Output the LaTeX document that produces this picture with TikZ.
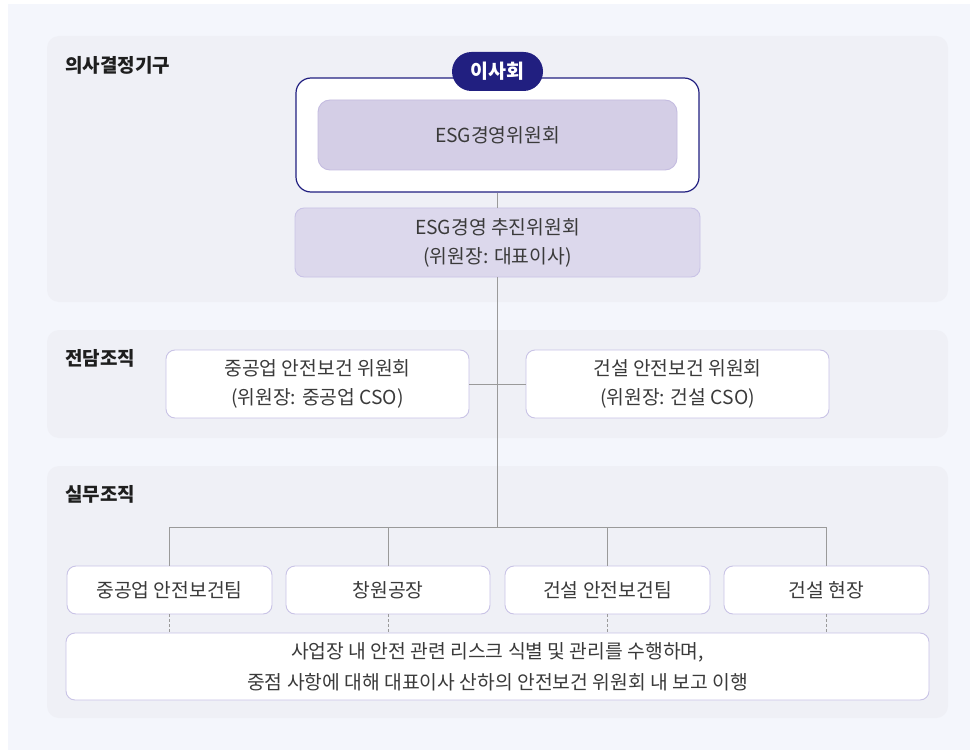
\documentclass[tikz,border=0pt]{standalone}
\usepackage{fontspec}
\setmainfont{Noto Sans CJK KR}
\definecolor{outerbg}{HTML}{F4F6FC}
\definecolor{panelbg}{HTML}{EFF0F6}
\definecolor{navy}{HTML}{211F80}
\definecolor{esgfill}{HTML}{D4CEE6}
\definecolor{esgline}{HTML}{C4BCE0}
\definecolor{chfill}{HTML}{DCD8EC}
\definecolor{boxline}{HTML}{C9C3E6}
\definecolor{conn}{HTML}{9A9A9A}
\definecolor{txt}{HTML}{3A3A3A}
\definecolor{lbl}{HTML}{1E1E1E}
\tikzset{
  panel/.style={fill=panelbg, draw=none, rounded corners=12pt},
  seclabel/.style={anchor=west, font=\bfseries\fontsize{19}{22}\selectfont, text=lbl, inner sep=0pt},
  wbox/.style={draw=boxline, line width=0.9pt, fill=white, rounded corners=9pt, font=\fontsize{19.3}{29}\selectfont, text=txt, align=center, inner sep=0pt},
  conline/.style={draw=conn, line width=1pt},
  dotline/.style={draw=conn, line width=1pt, dash pattern=on 2.5pt off 2.5pt},
}
\begin{document}
\begin{tikzpicture}[x=1pt,y=-1pt]
\useasboundingbox (0,0) rectangle (977,754);
\fill[white] (0,0) rectangle (977,754);
\fill[outerbg] (8,4) rectangle (970,750);
% panels
\fill[panel] (47,36) rectangle (948,302);
\fill[panel] (47,330) rectangle (948,438);
\fill[panel] (47,466) rectangle (948,718);
\node[seclabel] (l1) at (65,65) {의사결정기구};
\node[seclabel] (l2) at (65,358) {전담조직};
\node[seclabel] (l3) at (65,494) {실무조직};
% connectors (drawn first, boxes on top)
\coordinate (j) at (497.5,527);
\coordinate (j1) at (169.5,527);
\coordinate (j2) at (388,527);
\coordinate (j3) at (607.5,527);
\coordinate (j4) at (826.5,527);
% board box
\node[draw=navy, line width=1.2pt, fill=white, rounded corners=15pt, minimum width=403pt, minimum height=114pt, inner sep=0pt] (board) at (497.5,135) {};
\node[draw=esgline, line width=0.9pt, fill=esgfill, rounded corners=12pt, minimum width=359pt, minimum height=70pt, inner sep=0pt, font=\fontsize{19.3}{29}\selectfont, text=txt] (esg) at (497.5,135) {ESG경영위원회};
\node[fill=navy, rounded corners=19.5pt, minimum width=91pt, minimum height=39pt, inner sep=0pt, text=white, font=\bfseries\fontsize{19.5}{22}\selectfont] (isa) at (497.5,71.5) {이사회};
\node[wbox, fill=chfill, draw=boxline, minimum width=405pt, minimum height=69pt] (ch) at (497.5,242.5) {ESG경영 추진위원회\\(위원장: 대표이사)};
% dedicated
\node[wbox, minimum width=303pt, minimum height=68pt] (d1) at (317.5,384) {중공업 안전보건 위원회\\(위원장: 중공업 CSO)};
\node[wbox, minimum width=303pt, minimum height=68pt] (d2) at (677.5,384) {건설 안전보건 위원회\\(위원장: 건설 CSO)};
% working
\node[wbox, minimum width=205pt, minimum height=48pt] (w1) at (169.5,590) {중공업 안전보건팀};
\node[wbox, minimum width=204pt, minimum height=48pt] (w2) at (388,590) {창원공장};
\node[wbox, minimum width=205pt, minimum height=48pt] (w3) at (607.5,590) {건설 안전보건팀};
\node[wbox, minimum width=205pt, minimum height=48pt] (w4) at (826.5,590) {건설 현장};
\node[wbox, minimum width=863pt, minimum height=67pt, font=\fontsize{19.3}{31}\selectfont] (desc) at (497.5,666.5) {사업장 내 안전 관련 리스크 식별 및 관리를 수행하며,\\중점 사항에 대해 대표이사 산하의 안전보건 위원회 내 보고 이행};
% connectors
\path[conline] (board.south) -- (ch.north);
\path[conline] (ch.south) -- (j);
\path[conline] (d1.east) -- (d2.west);
\path[conline] (j1) -- (j4);
\path[conline] (j1) -- (w1.north);
\path[conline] (j2) -- (w2.north);
\path[conline] (j3) -- (w3.north);
\path[conline] (j4) -- (w4.north);
\path[dotline] (w1.south) -- (w1.south |- desc.north);
\path[dotline] (w2.south) -- (w2.south |- desc.north);
\path[dotline] (w3.south) -- (w3.south |- desc.north);
\path[dotline] (w4.south) -- (w4.south |- desc.north);
\end{tikzpicture}
\end{document}
